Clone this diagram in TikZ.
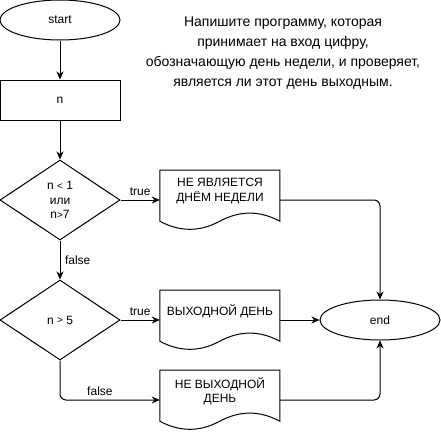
\documentclass[tikz,border=0pt]{standalone}
\usepackage{fontspec}
\setmainfont{Liberation Sans}
\usetikzlibrary{shapes.geometric,arrows.meta,calc}

% outline of a document symbol: flat top, wavy bottom
\newcommand\docoutline[1]{%
  \begin{scope}[shift={(#1.south west)}]
    \draw[line width=1pt] (0,-60) -- (120,-60) -- (120,-9)
      .. controls (100,-19.8) and (80,-19.8) .. (60,-9)
      .. controls (40,1.8) and (20,1.8) .. (0,-9) -- cycle;
  \end{scope}}
% smaller comparison signs
\newcommand\smallrel[1]{\raisebox{0.5pt}{\fontsize{10}{10}\selectfont#1}}

\begin{document}
\begin{tikzpicture}[x=1pt,y=-1pt,
  every node/.style={font=\fontsize{12}{14.4}\selectfont},
  term/.style={ellipse, draw, line width=1pt, minimum width=120pt, minimum height=40pt, inner sep=0pt},
  proc/.style={rectangle, draw, line width=1pt, minimum width=120pt, minimum height=40pt, inner sep=0pt},
  cond/.style={diamond, draw, line width=1pt, minimum width=120pt, minimum height=80pt, inner sep=0pt, aspect=1.5, align=center},
  docbox/.style={rectangle, minimum width=120pt, minimum height=60pt, inner sep=0pt},
  doctext/.style={align=center, yshift=9pt},
  flow/.style={line width=1pt, rounded corners=6pt, -{Stealth[length=8pt,width=7pt,inset=2.5pt]}},
  lbl/.style={font=\fontsize{12}{14}\selectfont, inner sep=3.5pt}
]
\useasboundingbox (0,0) rectangle (441,431);

% nodes
\node[term] (start) at (60,20) {start};
\node[proc] (n) at (60,100) {n};
\node[cond] (c1) at (60,200) {n \smallrel{<} 1\\или\\n\smallrel{>}7};
\node[docbox, label={[name=d1t, doctext]center:НЕ ЯВЛЯЕТСЯ\\ДНЁМ НЕДЕЛИ}] (d1) at (220,200) {};
\node[cond] (c2) at (60,320) {n \smallrel{>} 5};
\node[docbox, label={[name=d2t, doctext]center:ВЫХОДНОЙ ДЕНЬ}] (d2) at (220,320) {};
\node[docbox, label={[name=d3t, doctext]center:НЕ ВЫХОДНОЙ\\ДЕНЬ}] (d3) at (220,400) {};
\node[term] (end) at (380,320) {end};

\docoutline{d1}
\docoutline{d2}
\docoutline{d3}

\node[align=center, font=\fontsize{14}{20}\selectfont] (task) at (283,53)
  {Напишите программу, которая\\принимает на вход цифру,\\обозначающую день недели, и проверяет,\\является ли этот день выходным.};

% connectors
\draw[flow] (start) -- (n);
\draw[flow] (n) -- (c1);
\draw[flow] (c1) -- node[lbl, above] {true} (d1);
\draw[flow] (c1) -- node[lbl, right, xshift=1pt] {false} (c2);
\draw[flow] (c2) -- node[lbl, above] {true} (d2);
\draw[flow] (d2) -- (end);
\draw[flow] (c2.south) |- node[lbl, pos=0.7, above] {false} (d3.west);
\draw[flow] (d1.east) -| (end.north);
\draw[flow] (d3.east) -| (end.south);
\end{tikzpicture}
\end{document}
